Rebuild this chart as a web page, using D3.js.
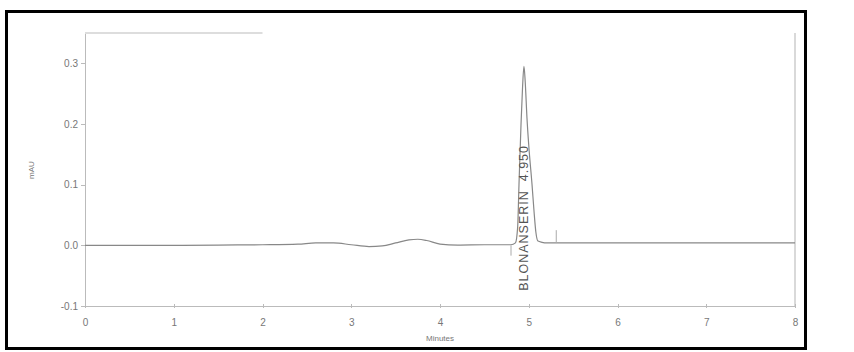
<!DOCTYPE html>
<html>
<head>
    <script src="https://d3js.org/d3.v7.min.js"></script>
    <style>
        body { margin: 0; background: #fff; }
        text { font-family: "Liberation Sans", Arial, sans-serif; fill: #777; }
        .axis path, .axis line { stroke: #bbb; shape-rendering: crispEdges; }
    </style>
</head>
<body>
<script>
    // chromatogram trace (minutes, mAU)
    const minutes = [0, 0.5, 1, 1.5, 2, 2.4, 2.6, 2.8, 3.0, 3.2, 3.35, 3.5, 3.65, 3.75, 3.85, 4.0, 4.2, 4.5,
        4.8, 4.85, 4.875, 4.89, 4.913, 4.93, 4.946, 4.96, 4.98, 5.00, 5.037, 5.06, 5.08, 5.104, 5.15, 5.2, 5.3,
        5.6, 6, 6.5, 7, 7.5, 8];
    const mau = [0, 0, 0, 0.0005, 0.001, 0.002, 0.004, 0.004, 0.001, -0.002, -0.001, 0.004, 0.009, 0.010, 0.008, 0.002, 0.0005, 0.001,
        0.001, 0.004, 0.03, 0.10, 0.20, 0.26, 0.295, 0.27, 0.21, 0.165, 0.10, 0.055, 0.022, 0.007, 0.005, 0.004, 0.004,
        0.004, 0.004, 0.004, 0.004, 0.004, 0.004];
    const xTicks = [0, 1, 2, 3, 4, 5, 6, 7, 8];
    const yTicks = [-0.1, 0.0, 0.1, 0.2, 0.3];
    const peakTime = 4.950;
    const peakName = "BLONANSERIN";

    const W = 854, H = 352;
    const svg = d3.select("body").append("svg").attr("width", W).attr("height", H);

    const x = d3.scaleLinear().domain([0, 8]).range([85, 795]);
    const y = d3.scaleLinear().domain([-0.1, 0.35]).range([306, 33]);

    // outer frame
    svg.append("rect").attr("x", 6.5).attr("y", 11.5).attr("width", 799).attr("height", 337)
        .attr("fill", "none").attr("stroke", "#000").attr("stroke-width", 3);

    // plot borders (top partial, right)
    svg.append("line").attr("x1", x(0)).attr("x2", x(2.0)).attr("y1", y(0.35)).attr("y2", y(0.35))
        .attr("stroke", "#bbb");
    svg.append("line").attr("x1", x(8)).attr("x2", x(8)).attr("y1", y(0.35)).attr("y2", y(-0.1))
        .attr("stroke", "#ccc").attr("stroke-width", 1.5);

    const xAxis = svg.append("g").attr("class", "axis")
        .attr("transform", `translate(0,${y(-0.1)})`)
        .call(d3.axisBottom(x).tickValues(xTicks).tickFormat(d3.format("d")).tickSize(3).tickSizeOuter(0));
    xAxis.selectAll("line").attr("y1", -2).attr("y2", 2);
    xAxis.selectAll("text").attr("dy", "1.4em").style("font-size", "10px");
    xAxis.select(".domain").attr("stroke", "#aaa").attr("stroke-width", 1.5);

    const yAxis = svg.append("g").attr("class", "axis")
        .attr("transform", `translate(${x(0)},0)`)
        .call(d3.axisLeft(y).tickValues(yTicks).tickFormat(d3.format(".1f")).tickSize(4).tickSizeOuter(0));
    yAxis.selectAll("text").style("font-size", "10px").text(d => d.toFixed(1));
    yAxis.select(".domain").attr("stroke", "#ccc");

    svg.append("text").attr("x", x(4)).attr("y", 341).attr("text-anchor", "middle")
        .style("font-size", "8px").text("Minutes");
    svg.append("text").attr("transform", `translate(34,170) rotate(-90)`).attr("text-anchor", "middle")
        .style("font-size", "8px").text("mAU");

    // trace
    const pts = minutes.map((m, i) => [m, mau[i]]);
    svg.append("path").datum(pts)
        .attr("fill", "none").attr("stroke", "#888").attr("stroke-width", 1.2)
        .attr("d", d3.line().x(d => x(d[0])).y(d => y(d[1])).curve(d3.curveMonotoneX));

    // integration marks
    svg.append("line").attr("x1", x(4.8)).attr("x2", x(4.8)).attr("y1", y(0)).attr("y2", y(-0.017))
        .attr("stroke", "#aaa");
    svg.append("line").attr("x1", x(5.31)).attr("x2", x(5.31)).attr("y1", y(0.004)).attr("y2", y(0.025))
        .attr("stroke", "#aaa");

    // peak label
    svg.append("text")
        .attr("transform", `translate(${x(peakTime) + 4},${y(-0.075)}) rotate(-90)`)
        .style("font-size", "12.5px").style("fill", "#555").style("letter-spacing", "1px")
        .style("white-space", "pre")
        .text(`${peakName}  ${peakTime.toFixed(3)}`);
</script>
</body>
</html>
